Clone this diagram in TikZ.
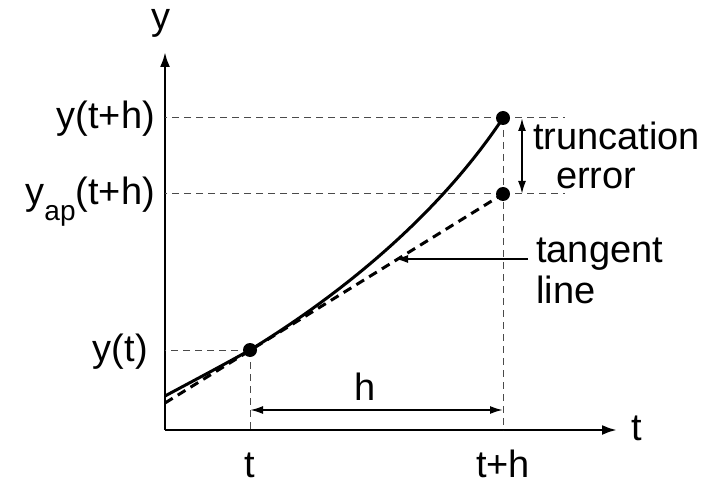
\documentclass[tikz,border=0pt]{standalone}
\usepackage{fontspec}
\setmainfont{Liberation Sans}
\usepackage{tikz}
\usetikzlibrary{arrows.meta,positioning}
\definecolor{GuideGray}{HTML}{4A4A4A}

\begin{document}
\begin{tikzpicture}[x=1pt, y=-1pt,
  lbl/.style={font=\fontsize{38}{43}\selectfont, inner sep=0pt},
  axis/.style={line width=2.6pt, -{Latex[length=15pt,width=10pt]}},
  curve/.style={line width=3pt},
  tangentline/.style={line width=3pt, dash pattern=on 9pt off 6pt},
  guide/.style={GuideGray, line width=1pt, dash pattern=on 7pt off 5pt},
  dim/.style={line width=2pt, {Latex[length=13pt,width=8pt]}-{Latex[length=13pt,width=8pt]}},
  pointer/.style={line width=2pt, -{Latex[length=13pt,width=8pt]}},
  dot/.style={circle, fill=black, minimum size=14pt, inner sep=0pt}]
  \useasboundingbox (0,0) rectangle (719,486);
  % Axes
  \coordinate (O) at (165,430);
  \coordinate (ytip) at (165,52);
  \coordinate (ttip) at (617,430);
  \draw[axis] (O) -- (ytip);
  \draw[axis] (O) -- (ttip);
  \node[lbl, anchor=base] (ylab) at (161,30) {y};
  \node[lbl, anchor=base] (tlab) at (637,440) {t};
  % Points on the curve
  \coordinate (cstart) at (165,396);
  \coordinate (tstart) at (165,403);
  \coordinate (yt) at (250,350);
  \coordinate (yth) at (503,118);
  \coordinate (yap) at (503,194);
  % Guide lines
  \draw[guide] (yth) -- (yth -| O);
  \draw[guide] (yth) -- ++(62,0);
  \draw[guide] (yap) -- (yap -| O);
  \draw[guide] (yap) -- ++(62,0);
  \draw[guide] (yt) -- (yt -| O);
  \draw[guide] (yt) -- (yt |- O);
  \draw[guide] (yth) -- (yth |- O);
  % Exact solution and tangent line
  \draw[curve] (cstart) .. controls (208,373) and (225,364) .. (yt)
    .. controls (335,298) and (435,220) .. (yth);
  \draw[tangentline] (tstart) -- (yap);
  \node[dot] (pt) at (yt) {};
  \node[dot] (pth) at (yth) {};
  \node[dot] (pap) at (yap) {};
  % Step size
  \draw[dim] (yt |- 0,410) -- (yth |- 0,410);
  \node[lbl, anchor=base] (hlab) at (365,400) {h};
  % Truncation error
  \draw[dim] ([xshift=19pt]yth) -- ([xshift=19pt]yap);
  \node[lbl, anchor=base west] (trunc) at (533,150) {truncation};
  \node[lbl, anchor=base west] (err) at (556,189) {error};
  % Tangent label
  \node[lbl, anchor=base west] (tang) at (536,262) {tangent};
  \node[lbl, anchor=base west] (tline) at (536,303) {line};
  \coordinate (tanpt) at (395,259);
  \draw[pointer] ([xshift=-8pt]tang.west |- tanpt) -- (tanpt);
  % Axis labels
  \node[lbl, anchor=base east] (lyth) at (155,129) {y(t+h)};
  \node[lbl, anchor=base east] (lyap) at (155,205)
    {y\raisebox{-0.4em}{\fontsize{28}{28}\selectfont ap}(t+h)};
  \node[lbl, anchor=base east] (lyt) at (148,361) {y(t)};
  \node[lbl, anchor=base] (lt) at (250,477) {t};
  \node[lbl, anchor=base] (lth) at (503,477) {t+h};
\end{tikzpicture}
\end{document}
